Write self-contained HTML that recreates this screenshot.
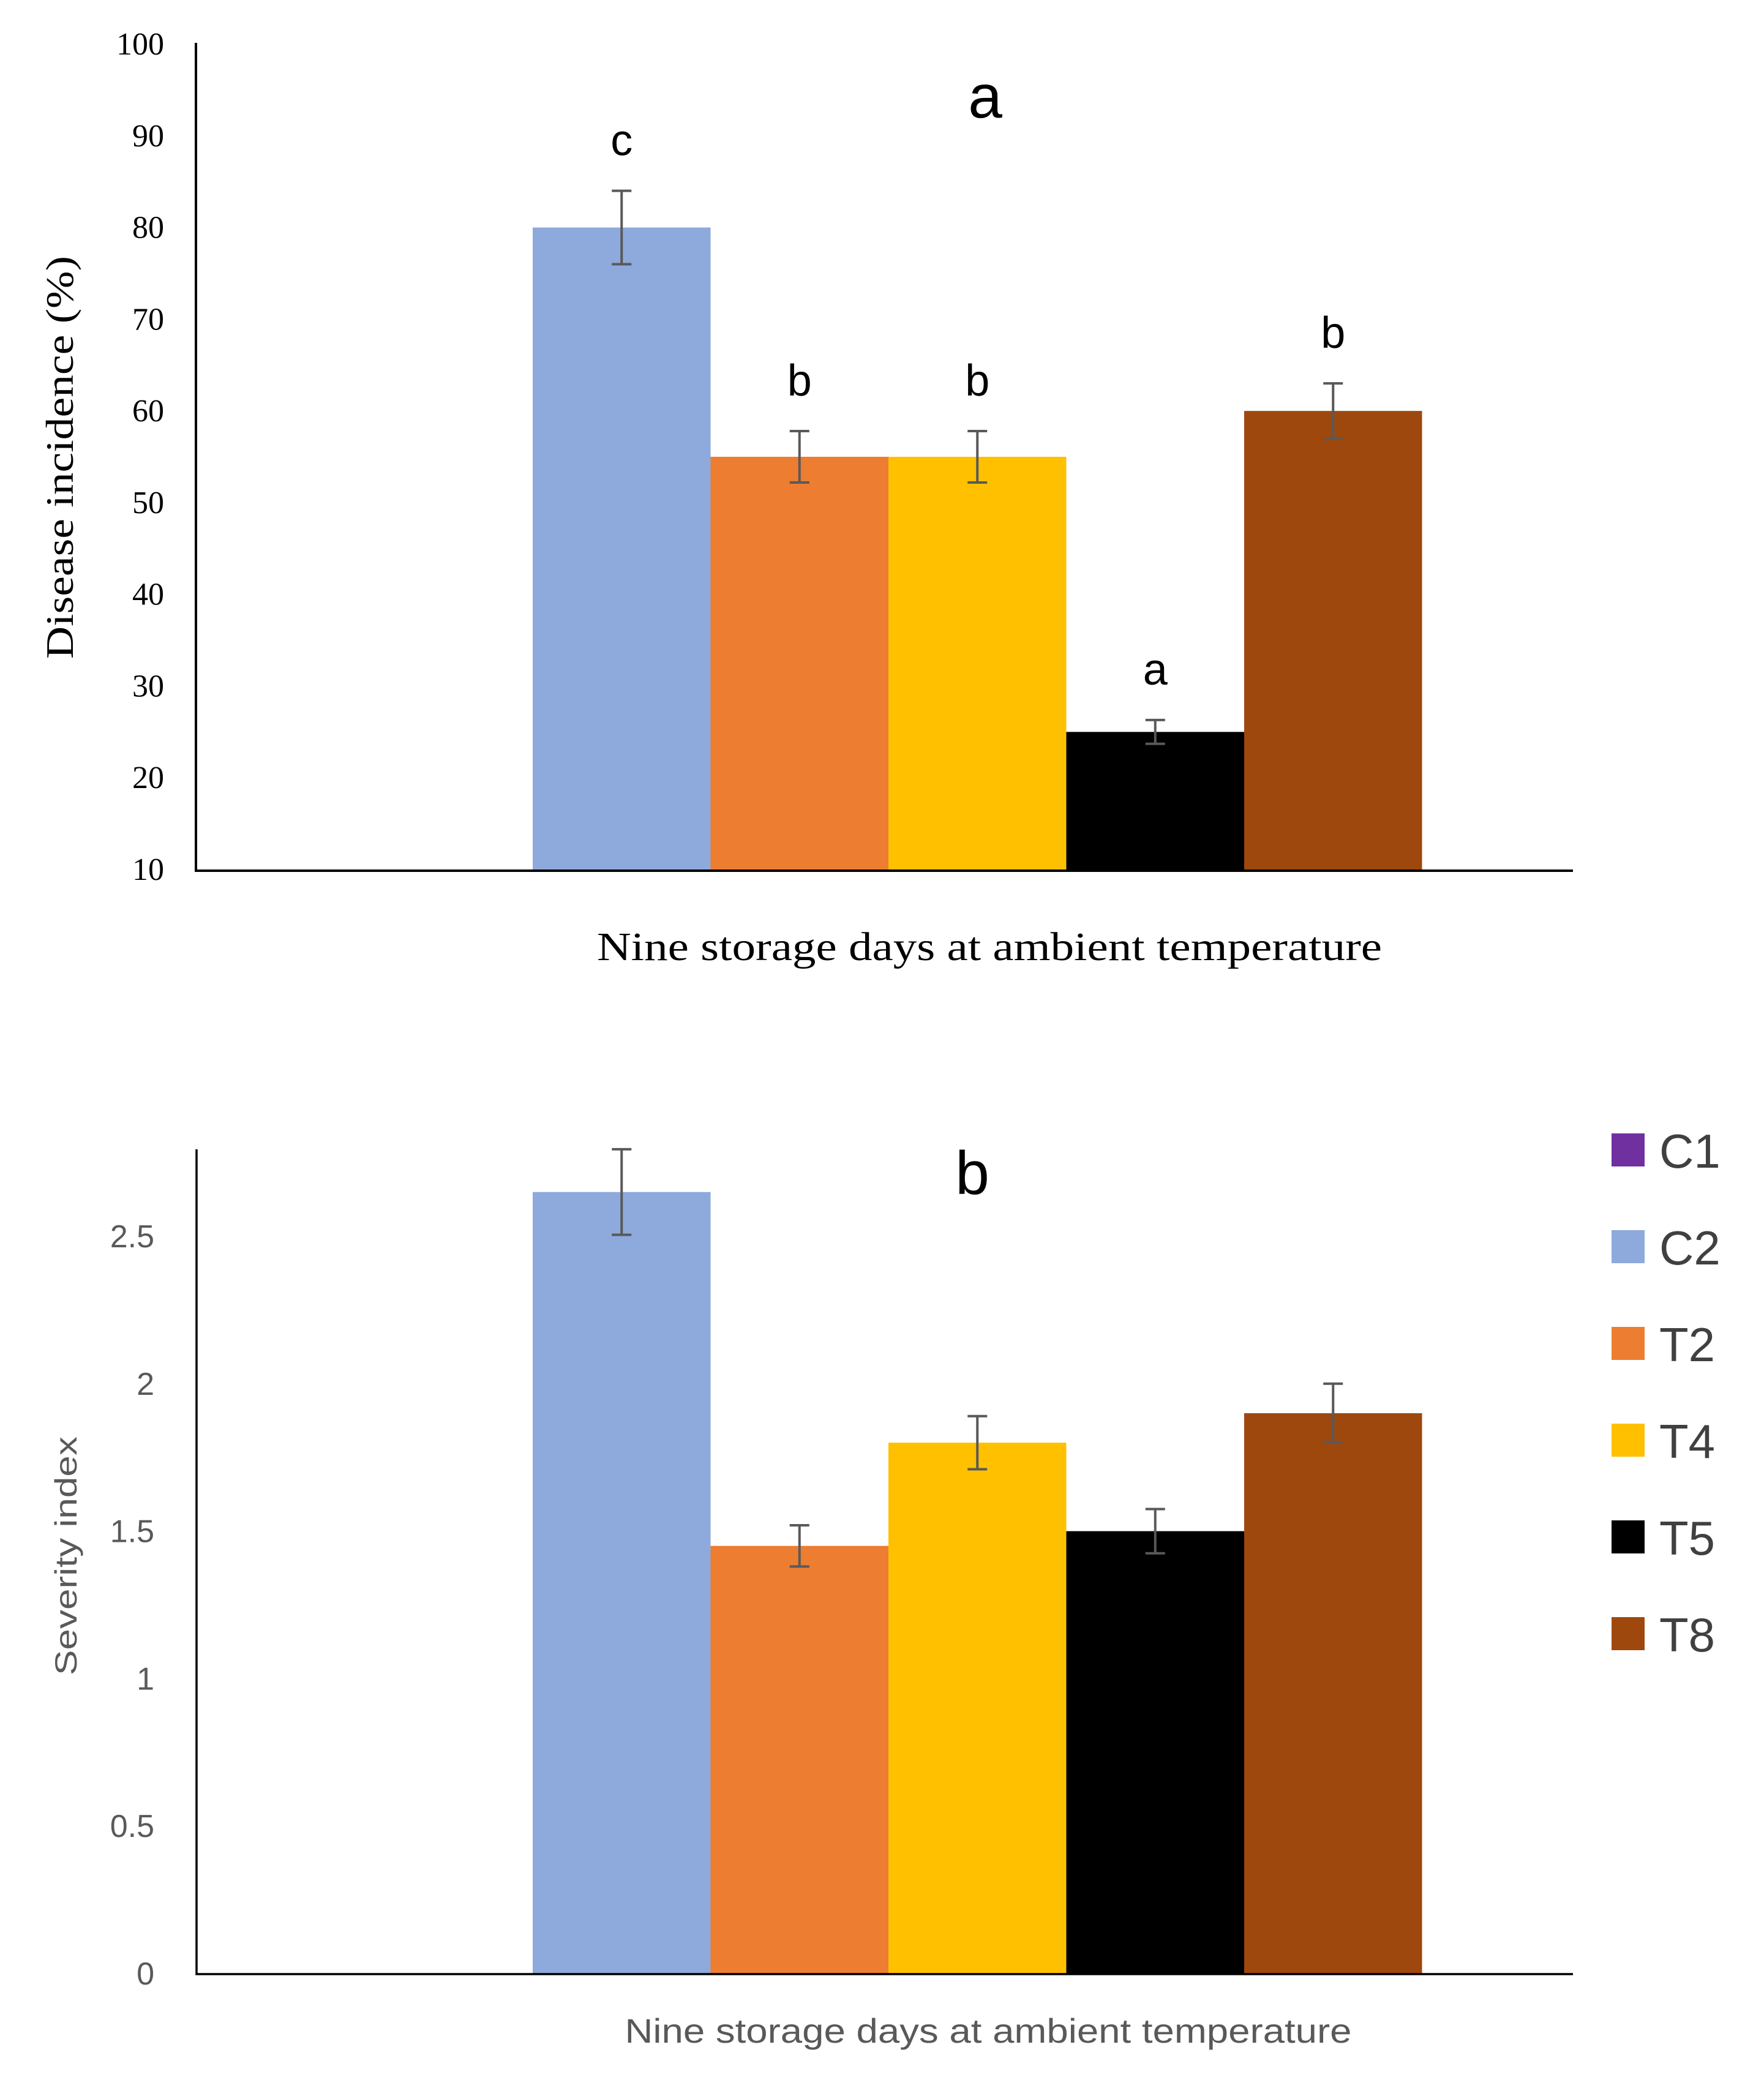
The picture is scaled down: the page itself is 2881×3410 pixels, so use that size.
<!DOCTYPE html>
<html><head><meta charset="utf-8"><style>
body{margin:0;background:#fff}
svg{display:block}
.serif{font-family:"Liberation Serif",serif}
.sans{font-family:"Liberation Sans",sans-serif}
</style></head><body>
<svg id="c" width="2881" height="3410" xmlns="http://www.w3.org/2000/svg"></svg>
<script>
const categories=["C2","T2","T4","T5","T8"];
const colors=["#8EA9DB","#ED7D31","#FFC000","#000000","#9E480E"];
const incidence=[80,55,55,25,60];
const incidenceErr=[4,2.8,2.8,1.3,3];
const incidenceLetters=["c","b","b","a","b"];
const severity=[2.65,1.45,1.8,1.5,1.9];
const severityErr=[0.145,0.07,0.09,0.075,0.1];
const ticksA=[10,20,30,40,50,60,70,80,90,100];
const ticksB=[0,0.5,1,1.5,2,2.5];
const legendLabels=["C1","C2","T2","T4","T5","T8"];
const legendColors=["#7030A0","#8EA9DB","#ED7D31","#FFC000","#000000","#9E480E"];

const svg=document.getElementById('c');
const NS="http://www.w3.org/2000/svg";
function mk(tag,attrs,text){const e=document.createElementNS(NS,tag);for(const k in attrs)e.setAttribute(k,attrs[k]);if(text!==undefined)e.textContent=text;svg.appendChild(e);return e;}
const bx0=870,bw=290.5;
function xBar(i){return bx0+i*bw;}
function yA(v){return 1420-(v-10)*(1420-72)/90;}
function yB(v){return 3223-v*(3223-2019)/2.5;}

// Chart A
let e;
for(const t of ticksA){
 e=mk('text',{x:268,y:yA(t)+17,'text-anchor':'end','font-size':52,fill:'#000',class:'serif'},String(t));
 
 
}
categories.forEach((c,i)=>{
 const y=yA(incidence[i]);
 e=mk('rect',{x:xBar(i),y:y,width:bw,height:1420-y,fill:colors[i]});
 
 
 const cx=xBar(i)+bw/2,t=yA(incidence[i]+incidenceErr[i]),b=yA(incidence[i]-incidenceErr[i]);
 e=mk('path',{d:`M${cx},${t}V${b}M${cx-16},${t}H${cx+16}M${cx-16},${b}H${cx+16}`,stroke:'#595959','stroke-width':4,fill:'none'});
 
 
 e=mk('text',{x:cx,y:t-58,'text-anchor':'middle','font-size':72,fill:'#000',class:'sans'},incidenceLetters[i]);
 
 
});
e=mk('path',{d:'M320,70V1422H2569',stroke:'#000','stroke-width':4,fill:'none'});


e=mk('text',{x:1609,y:192,'text-anchor':'middle','font-size':100,fill:'#000',class:'sans'},'a');


e=mk('text',{x:1616,y:1568,'text-anchor':'middle','font-size':66,textLength:1282,lengthAdjust:'spacingAndGlyphs',fill:'#000',class:'serif'},'Nine storage days at ambient temperature');


e=mk('text',{x:0,y:0,transform:'translate(119,747) rotate(-90)','text-anchor':'middle','font-size':64,textLength:658,lengthAdjust:'spacingAndGlyphs',fill:'#000',class:'serif'},'Disease incidence (%)');



// Chart B
for(const t of ticksB){
 e=mk('text',{x:252,y:yB(t)+18,'text-anchor':'end','font-size':52,fill:'#595959',class:'sans'},String(t));
 
 
}
categories.forEach((c,i)=>{
 const y=yB(severity[i]);
 e=mk('rect',{x:xBar(i),y:y,width:bw,height:3223-y,fill:colors[i]});
 
 
 const cx=xBar(i)+bw/2,t=yB(severity[i]+severityErr[i]),b=yB(severity[i]-severityErr[i]);
 e=mk('path',{d:`M${cx},${t}V${b}M${cx-16},${t}H${cx+16}M${cx-16},${b}H${cx+16}`,stroke:'#595959','stroke-width':4,fill:'none'});
 
 
});
e=mk('path',{d:'M321,1877V3224H2569',stroke:'#000','stroke-width':3.5,fill:'none'});


e=mk('text',{x:1588,y:1950,'text-anchor':'middle','font-size':100,fill:'#000',class:'sans'},'b');


e=mk('text',{x:1614,y:3336,'text-anchor':'middle','font-size':56,textLength:1187,lengthAdjust:'spacingAndGlyphs',fill:'#595959',class:'sans'},'Nine storage days at ambient temperature');


e=mk('text',{x:0,y:0,transform:'translate(125,2541) rotate(-90)','text-anchor':'middle','font-size':50,textLength:390,lengthAdjust:'spacingAndGlyphs',fill:'#595959',class:'sans'},'Severity index');



// Legend
legendLabels.forEach((l,i)=>{
 const y=1878+i*158;
 e=mk('rect',{x:2632,y:y-27,width:54,height:54,fill:legendColors[i]});
 
 
 e=mk('text',{x:2710,y:y+29,'font-size':78,fill:'#404040',class:'sans'},l);
 
 
});
</script>
</body></html>
